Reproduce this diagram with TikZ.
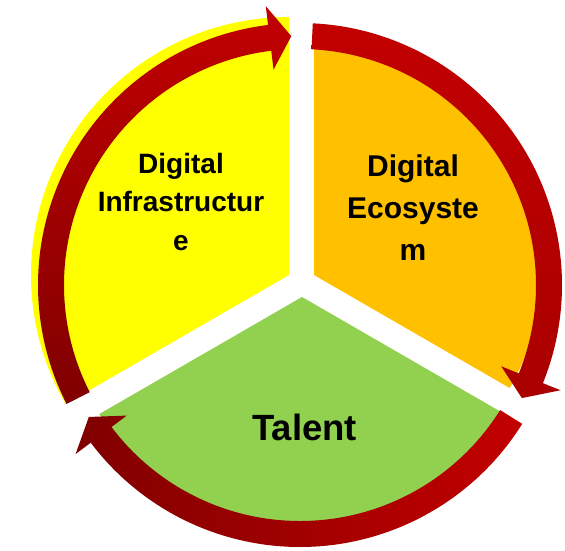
\documentclass[tikz,border=0pt]{standalone}
\usepackage{fontspec}
\setmainfont{Liberation Sans}
\definecolor{cyel}{RGB}{255,255,0}
\definecolor{corange}{RGB}{255,192,0}
\definecolor{cgreen}{RGB}{146,208,80}
\definecolor{rbright}{RGB}{194,0,0}
\definecolor{rmid}{RGB}{160,0,0}
\definecolor{rdark}{RGB}{128,0,0}
\definecolor{rlow}{RGB}{170,0,0}
\newcommand\redarc[4]{% #1 shading options, #2 tail angle, #3 head base angle, #4 tip angle
  \shade[#1, shift={(C)}] (#2:262) arc[start angle=#2,end angle=#3,radius=262]
    -- (#3:281) -- (#4:249) -- (#3:217) -- (#3:236)
    arc[start angle=#3,end angle=#2,radius=236] -- cycle;}
\begin{document}
\begin{tikzpicture}[x=1pt,y=1pt,
  lbl/.style={text=black, align=center, inner sep=0pt}]
\useasboundingbox (0,0) rectangle (565,550);
\coordinate (C) at (300,265);
\coordinate (Y) at (289,275);
\coordinate (O) at (314,275);
\coordinate (G) at (302,253);
% sectors
\fill[cyel] (Y) -- ++(90:258) arc[start angle=90,end angle=210,radius=258] -- cycle;
\fill[corange] (O) -- ++(-30:226) arc[start angle=-30,end angle=90,radius=226] -- cycle;
\fill[cgreen] (G) -- ++(210:234) arc[start angle=210,end angle=330,radius=234] -- cycle;
% arrows
\redarc{top color=rbright, bottom color=rdark, middle color=rmid}{207}{97}{92}
\redarc{top color=rbright, bottom color=rlow}{87.2}{-22}{-27}
\redarc{left color=rdark, right color=rbright}{-32}{-143}{-148}
% labels
\node[lbl, font=\fontsize{28}{38.5}\selectfont\bfseries] (infra) at (181,348.3) {Digital\\Infrastructur\\e};
\node[lbl, font=\fontsize{30}{42}\selectfont\bfseries] (eco) at (413,342.75) {Digital\\Ecosyste\\m};
\node[lbl, font=\fontsize{36.5}{44}\selectfont\bfseries, anchor=base] (talent) at (304.5,110) {Talent};
\end{tikzpicture}
\end{document}
